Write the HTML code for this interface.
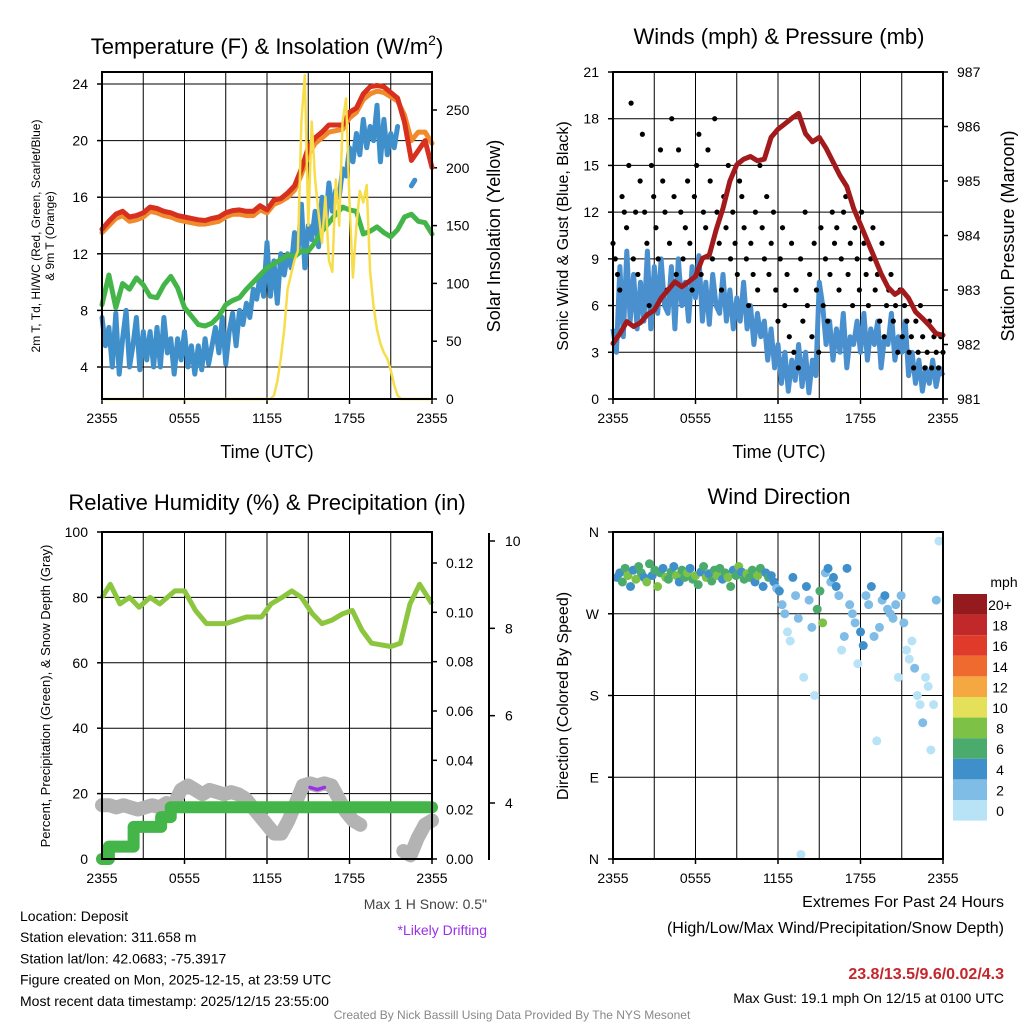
<!DOCTYPE html>
<html><head><meta charset="utf-8"><style>
html,body{margin:0;padding:0;background:#fff}
svg{display:block;font-family:"Liberation Sans",Arial,sans-serif}
</style></head><body>
<svg id="s" width="1024" height="1024" viewBox="0 0 1024 1024"></svg>
<script>
// ---- data ----
const xTickLabels=["2355","0555","1155","1755","2355"];
const tempRed=[13.74,14.3,14.8,15.0,14.6,14.7,14.9,15.3,15.2,15.0,14.9,14.7,14.6,14.5,14.4,14.35,14.5,14.6,14.9,15.05,15.1,15.0,15.0,15.4,15.1,15.8,15.9,16.3,16.8,18.0,19.5,20.2,20.6,21.1,21.1,21.1,22.0,22.3,23.3,23.8,23.9,23.8,23.4,23.0,21.3,18.6,19.3,20.0,18.1];
const temp9m=[13.5,14.0,14.5,14.7,14.3,14.4,14.6,15.0,14.9,14.7,14.6,14.4,14.3,14.2,14.1,14.1,14.2,14.3,14.6,14.8,14.8,14.7,14.7,15.1,14.9,15.5,15.7,16.0,16.5,17.6,19.0,19.8,20.2,20.6,20.7,20.8,21.6,22.0,22.9,23.3,23.5,23.4,23.1,22.8,21.8,20.0,20.6,20.6,19.8];
const dewGreen=[8.4,10.5,8.2,9.9,9.5,10.3,9.8,9.0,8.9,9.8,10.4,9.6,8.2,7.6,7.0,6.9,7.1,7.6,8.4,8.7,8.9,9.5,10.0,10.5,11.0,11.3,11.6,11.9,11.8,12.2,12.2,12.8,13.6,14.2,14.8,15.3,15.1,15.0,13.4,13.6,13.9,13.5,13.2,13.7,14.6,14.8,14.3,14.2,13.4];
const windChill=[7.5,5.5,6.8,4.0,7.8,3.5,6.0,8.0,4.0,5.5,7.5,3.8,6.5,4.5,6.5,4.0,6.8,4.0,7.5,5.0,6.0,3.5,6.0,4.5,6.5,4.0,5.5,3.5,5.5,3.8,6.0,4.2,5.5,6.8,5.0,7.5,4.2,6.5,7.8,5.5,8.0,7.0,8.5,7.5,9.5,8.8,10.5,9.0,12.8,9.0,11.5,8.5,12.0,10.5,12.0,11.0,13.5,12.0,15.5,11.0,14.0,13.0,15.0,12.5,16.0,14.0,17.0,15.0,16.5,16.0,18.0,17.5,19.5,18.5,20.5,19.0,21.5,19.5,21.0,20.0,22.5,18.5,21.5,19.0,20.5,19.5,21.0,null,null,null,16.8,17.2,null,null,null,null,null];
const solar=[0,0,0,0,0,0,0,0,0,0,0,0,0,0,0,0,0,0,0,0,0,0,0,0,0,0,0,0,0,0,0,0,0,0,0,0,0,0,0,0,0,0,0,0,0,0,0,0,0,0,3,15,35,60,95,108,120,128,240,280,150,240,190,160,135,175,120,110,190,150,240,260,170,105,150,180,170,185,110,80,60,48,40,35,25,12,3,0,0,0,0,0,0,0,0,0,0];
const windSpeed=[4.5,3.0,8.5,4.0,9.5,5.0,8.0,4.5,7.5,5.0,9.5,4.5,8.5,5.5,9.0,6.0,5.5,8.5,4.5,9.0,6.0,7.5,5.0,8.5,6.5,9.2,5.0,7.5,4.8,8.0,6.0,5.5,8.0,5.0,7.0,4.5,6.5,5.0,7.5,4.5,6.0,3.5,5.5,4.0,5.0,2.5,4.5,2.0,3.5,1.0,3.0,0.5,2.5,1.2,3.5,0.8,3.0,0.4,2.5,1.5,7.5,6.0,3.5,5.0,2.5,4.5,3.0,5.5,2.0,4.0,3.5,5.0,3.0,5.5,2.5,4.5,3.5,5.0,2.0,4.0,3.5,5.5,2.5,4.0,3.0,5.0,1.5,3.0,1.0,2.5,0.5,2.0,1.0,2.5,0.8,2.0,1.5];
const gusts=[10,9,8,7,13,12,11,15,19,9,12,8,14,17,12,10,6,15,13,11,9,16,14,12,7,10,18,13,8,16,12,9,11,14,10,7,13,15,17,8,12,11,16,14,9,18,12,10,7,13,11,15,9,12,10,8,14,13,11,9,6,10,8,12,7,15,11,9,13,8,10,12,7,5,9,11,6,8,4,10,3,7,2,9,5,12,6,8,4,10,7,3,11,6,9,5,8,12,10,11,7,9,12,13,8,10,6,11,9,7,12,10,8,6,9,11,7,8,5,10,4,6,7,8,5,6,3,7,4,6,5,3,4,2,5,3,6,4,2,3,5,2,4,3,2,4,3];
const pressure=[982.02,982.2,982.42,982.33,982.4,982.55,982.63,982.85,983.0,983.15,983.06,983.15,983.25,983.58,983.64,984.1,984.5,985.0,985.3,985.4,985.45,985.37,985.4,985.8,985.95,986.05,986.15,986.24,985.87,985.72,985.8,985.6,985.35,985.1,984.9,984.5,984.2,983.9,983.6,983.3,983.05,982.92,983.0,982.85,982.6,982.48,982.35,982.2,982.17];
const rhHours=[0,0.6,1.3,2.0,2.7,3.5,4.2,5.3,6.0,6.8,7.6,9.0,10.5,11.6,12.3,13.1,13.8,14.5,15.3,16.0,16.7,17.5,18.2,18.9,19.6,21.0,21.7,22.4,23.1,24];
const rhValues=[80,84,78,80,77,80,78,82,82,76,72,72,74,74,78,80,82,80,75,72,73,75,76,70,66,65,66,78,84,78];
const precipHours=[0,0.5,2.3,4.3,5.0,24];
const precipValues=[0,0.005,0.013,0.017,0.021,0.021];
const snowDepth=[3.95,3.95,3.9,3.95,3.9,3.85,3.9,3.95,3.9,4.0,3.95,4.3,4.4,4.3,4.2,4.3,4.25,4.2,4.25,4.2,4.1,3.9,3.7,3.5,3.3,3.3,3.6,4.0,4.4,4.45,4.4,4.45,4.4,4.1,3.8,3.6,3.5,null,null,null,null,null,2.9,2.8,3.2,3.5,3.6];
const driftHours=[[6.2,6.5],[15.4,16.5],[23.9,24]];
const dirValues=[310,315,305,320,312,300,318,308,322,315,310,305,325,312,318,300,315,320,310,308,316,322,312,305,318,310,315,320,308,312,302,316,322,310,314,306,318,312,320,308,315,310,300,318,312,322,316,308,314,310,318,305,312,320,300,315,310,312,305,298,295,280,270,250,240,310,290,265,5,200,300,285,255,180,275,295,260,315,320,305,310,300,290,230,245,320,280,270,260,215,250,235,290,280,300,245,130,255,285,290,275,270,265,280,200,290,260,230,220,240,210,180,170,150,200,190,120,170,285,350];
const dirSpeeds=[5,4,7,6,8,5,4,9,7,6,5,8,7,4,6,9,7,5,8,6,7,4,8,5,6,7,9,5,6,8,7,4,6,8,5,7,6,9,7,5,6,8,7,4,6,9,5,7,8,6,7,5,8,6,4,5,6,5,4,3,4,3,2,1,1,4,3,2,1,0.5,4,3,2,1,6,7,8,3,4,3,5,4,3,1,2,4,3,3,3,1,5,4,3,3,4,2,1,3,3,4,3,3,2,3,1,2,2,1,1,1,2,1,1,2,1,1,0.5,1,3,1];
const speedLabels=["20+","18","16","14","12","10","8","6","4","2","0"];
const speedColors=["#951a1d","#c0282a","#e03b2a","#ef6a2f","#f5a742","#e5e05a","#7dc246","#4aab6c","#3f8fcb","#7fbce6","#b8e3f7"];

// ---- helpers ----
const NS="http://www.w3.org/2000/svg";
const svg=document.getElementById('s');
function el(tag,parent,attrs){const e=document.createElementNS(NS,tag);for(const k in attrs)e.setAttribute(k,attrs[k]);(parent||svg).appendChild(e);return e;}
function txt(parent,x,y,s,size,anchor,extra){const t=el('text',parent,Object.assign({x:x,y:y,'font-size':size,'text-anchor':anchor||'middle',fill:'#000'},extra||{}));t.textContent=s;return t;}
function lin(d0,d1,r0,r1){return v=>r0+(v-d0)/(d1-d0)*(r1-r0);}
function pathFrom(vals,fx,fy){let d='',pen=false;vals.forEach((v,i)=>{if(v===null){pen=false;return;}d+=(pen?'L':'M')+fx(i).toFixed(1)+','+fy(v).toFixed(1);pen=true;});return d;}
function frame(g,x0,x1,y0,y1,leftTicks,fy,rightTicks,fyr){
  for(let h=3;h<24;h+=3){const x=x0+(x1-x0)*h/24;const l=el('line',g,{x1:x,x2:x,y1:y0,y2:y1,stroke:'#000','stroke-width':1});}
  leftTicks.forEach(t=>{const y=fy(t.v);const l=el('line',g,{x1:x0,x2:x1,y1:y,y2:y,stroke:'#000','stroke-width':1});
    const tk=txt(g,x0-14,y+5,t.s,14,'end');
    el('line',g,{x1:x0-5,x2:x0,y1:y,y2:y,stroke:'#000','stroke-width':1.5});});
  xTickLabels.forEach((s,i)=>{const x=x0+(x1-x0)*i/4;const tk=txt(g,x,y1+24,s,14,'middle');
    el('line',g,{x1:x,x2:x,y1:y1,y2:y1+5,stroke:'#000','stroke-width':1.5});});
  if(rightTicks)rightTicks.forEach(t=>{const y=fyr(t.v);const tk=txt(g,x1+14,y+5,t.s,14,'start');el('line',g,{x1:x1,x2:x1+5,y1:y,y2:y,stroke:'#000','stroke-width':1.5});});
}
function border(g,x0,x1,y0,y1){const r=el('rect',g,{x:x0,y:y0,width:x1-x0,height:y1-y0,fill:'none',stroke:'#000','stroke-width':2});}

// ---- Panel 1 ----
(function(){
const g=el('g',svg,{});
const x0=102,x1=432,y0=72,y1=399;
const fy=lin(4,24,367,84), fr=lin(0,250,399,110);
const ticks=[4,8,12,16,20,24].map(v=>({v:v,s:String(v)}));
const rticks=[0,50,100,150,200,250].map(v=>({v:v,s:String(v)}));
frame(g,x0,x1,y0,y1,ticks,fy,rticks,fr);
const fx=n=>i=>x0+(x1-x0)*i/(n-1);
const series=[[windChill,'#3f8fcb',5,'wind-chill-line',fy],[dewGreen,'#44b549',5,'dewpoint-line',fy],[temp9m,'#f08a2c',5,'temp-9m-line',fy],[tempRed,'#d7301f',5,'temp-2m-line',fy],[solar,'#f7dd4a',2.5,'solar-insolation-line',fr]];
series.forEach(s=>{const p=el('path',g,{d:pathFrom(s[0],fx(s[0].length),v=>Math.max(y0,s[4](v))),fill:'none',stroke:s[1],'stroke-width':s[2],'stroke-linejoin':'round','stroke-linecap':'round'});});
border(g,x0,x1,y0,y1);
const t=txt(g,267,54,'Temperature (F) & Insolation (W/m',22);const sup=el('tspan',t,{dy:-9,'font-size':14});sup.textContent='2';const cl=el('tspan',t,{dy:9});cl.textContent=')';

const xt=txt(g,267,458,'Time (UTC)',18);
const yl=el('text',g,{transform:'translate(40,236) rotate(-90)','font-size':12,'text-anchor':'middle'});yl.textContent='2m T, Td, HI/WC (Red, Green, Scarlet/Blue)';

const yl2=el('text',g,{transform:'translate(54,236) rotate(-90)','font-size':12,'text-anchor':'middle'});yl2.textContent='& 9m T (Orange)';

const yr=el('text',g,{transform:'translate(500,236) rotate(-90)','font-size':18,'text-anchor':'middle'});yr.textContent='Solar Insolation (Yellow)';

})();

// ---- Panel 2 ----
(function(){
const g=el('g',svg,{});
const x0=613,x1=943,y0=72,y1=399;
const fy=lin(0,21,399,72), fr=lin(981,987,399,72);
const ticks=[0,3,6,9,12,15,18,21].map(v=>({v:v,s:String(v)}));
const rticks=[981,982,983,984,985,986,987].map(v=>({v:v,s:String(v)}));
frame(g,x0,x1,y0,y1,ticks,fy,rticks,fr);
const fx=n=>i=>x0+(x1-x0)*i/(n-1);
const w=el('path',g,{d:pathFrom(windSpeed,fx(windSpeed.length),fy),fill:'none',stroke:'#4a90cf','stroke-width':5,'stroke-linejoin':'round'});

const gx=fx(gusts.length);
gusts.forEach((v,i)=>{const c=el('circle',g,{cx:gx(i),cy:fy(v),r:2.6,fill:'#000'});});
const p=el('path',g,{d:pathFrom(pressure,fx(pressure.length),fr),fill:'none',stroke:'#a31a1c','stroke-width':5,'stroke-linejoin':'round','stroke-linecap':'round'});

border(g,x0,x1,y0,y1);
const t=txt(g,779,44,'Winds (mph) & Pressure (mb)',22);
const xt=txt(g,779,458,'Time (UTC)',18);
const yl=el('text',g,{transform:'translate(568,236) rotate(-90)','font-size':16,'text-anchor':'middle'});yl.textContent='Sonic Wind & Gust (Blue, Black)';

const yr=el('text',g,{transform:'translate(1014,236) rotate(-90)','font-size':18,'text-anchor':'middle'});yr.textContent='Station Pressure (Maroon)';

})();

// ---- Panel 3 ----
(function(){
const g=el('g',svg,{});
const x0=102,x1=432,y0=532,y1=859;
const fy=lin(0,100,859,532), fp=lin(0,0.12,859,563), fs=lin(4,10,803,541);
const ticks=[0,20,40,60,80,100].map(v=>({v:v,s:String(v)}));
const rticks=[0,0.02,0.04,0.06,0.08,0.10,0.12].map(v=>({v:v,s:v.toFixed(2)}));
frame(g,x0,x1,y0,y1,ticks,fy,rticks,fp);
const fxh=h=>x0+(x1-x0)*h/24;
const fx=n=>i=>x0+(x1-x0)*i/(n-1);
const sp=el('path',g,{d:pathFrom(snowDepth,fx(snowDepth.length),fs),fill:'none',stroke:'#b3b3b3','stroke-width':14,'stroke-linejoin':'round','stroke-linecap':'round'});

const sx=fx(snowDepth.length);
driftHours.forEach(dh=>{let d='';const n=snowDepth.length;for(let i=0;i<n;i++){const h=24*i/(n-1);if(h>=dh[0]-0.3&&h<=dh[1]+0.01&&snowDepth[i]!==null){d+=(d?'L':'M')+sx(i).toFixed(1)+','+(fs(snowDepth[i])+4).toFixed(1);}}
 if(d){const q=el('path',g,{d:d,fill:'none',stroke:'#9b30e8','stroke-width':3.5,'stroke-linecap':'round'});}});
let pd='';precipHours.forEach((h,i)=>{const y=fp(precipValues[i]);if(i===0)pd='M'+fxh(h)+','+y;else{pd+='L'+fxh(h)+','+fp(precipValues[i-1])+'L'+fxh(h)+','+y;}});
const pp=el('path',g,{d:pd,fill:'none',stroke:'#44b549','stroke-width':12,'stroke-linejoin':'round','stroke-linecap':'round'});

let rd='';rhHours.forEach((h,i)=>{rd+=(i?'L':'M')+fxh(h).toFixed(1)+','+fy(rhValues[i]).toFixed(1);});
const rh=el('path',g,{d:rd,fill:'none',stroke:'#8cc63f','stroke-width':5,'stroke-linejoin':'round'});

border(g,x0,x1,y0,y1);
const ax=489;const sa=el('line',g,{x1:ax,x2:ax,y1:533,y2:860,stroke:'#000','stroke-width':2});
[4,6,8,10].forEach(v=>{const y=fs(v);el('line',g,{x1:ax,x2:ax+6,y1:y,y2:y,stroke:'#000','stroke-width':1.5});const tk=txt(g,ax+16,y+5,String(v),14,'start');});
const t=txt(g,267,510,'Relative Humidity (%) & Precipitation (in)',22);
const yl=el('text',g,{transform:'translate(50,696) rotate(-90)','font-size':13,'text-anchor':'middle'});yl.textContent='Percent, Precipitation (Green), & Snow Depth (Gray)';

const m=txt(g,487,909,'Max 1 H Snow: 0.5"',14,'end',{fill:'#444'});
const d=txt(g,487,935,'*Likely Drifting',14,'end',{fill:'#9b30e8'});
})();

// ---- Panel 4 ----
(function(){
const g=el('g',svg,{});
const x0=613,x1=943,y0=532,y1=859;
const fy=lin(0,360,859,532);
const ticks=[[0,'N'],[90,'E'],[180,'S'],[270,'W'],[360,'N']].map(a=>({v:a[0],s:a[1]}));
frame(g,x0,x1,y0,y1,ticks,fy,null,null);
const fx=i=>x0+4+(x1-x0-8)*i/(dirValues.length-1);
dirValues.forEach((v,i)=>{const s=dirSpeeds[i];let bin=Math.min(10,Math.floor(s/2));const c=el('circle',g,{cx:fx(i),cy:fy(v),r:4.5,fill:speedColors[10-bin]});});
border(g,x0,x1,y0,y1);
const t=txt(g,779,504,'Wind Direction',22);
const yl=el('text',g,{transform:'translate(568,696) rotate(-90)','font-size':16,'text-anchor':'middle'});yl.textContent='Direction (Colored By Speed)';

const lg=el('g',g,{});
const mph=txt(lg,1004,587,'mph',14);
speedLabels.forEach((s,i)=>{const y=594+i*20.6;const r=el('rect',lg,{x:953,y:y,width:34,height:20.6,fill:speedColors[i]});
 const l=txt(lg,1000,y+16,s,14,'middle');});
})();

// ---- footer text ----
(function(){
const g=el('g',svg,{});
const left=['Location: Deposit','Station elevation: 311.658 m','Station lat/lon: 42.0683; -75.3917','Figure created on Mon, 2025-12-15, at 23:59 UTC','Most recent data timestamp: 2025/12/15 23:55:00'];
left.forEach((s,i)=>{const t=txt(g,20,921+i*21.2,s,14,'start');});
const r1=txt(g,1004,907,'Extremes For Past 24 Hours',16,'end');
const r2=txt(g,1004,933,'(High/Low/Max Wind/Precipitation/Snow Depth)',16,'end');
const r3=txt(g,1004,979,'23.8/13.5/9.6/0.02/4.3',16,'end',{fill:'#c4262b','font-weight':'bold'});
const r4=txt(g,1004,1003,'Max Gust: 19.1 mph On 12/15 at 0100 UTC',14,'end');
const c=txt(g,512,1019,'Created By Nick Bassill Using Data Provided By The NYS Mesonet',12,'middle',{fill:'#888'});
})();
</script>
</body></html>
